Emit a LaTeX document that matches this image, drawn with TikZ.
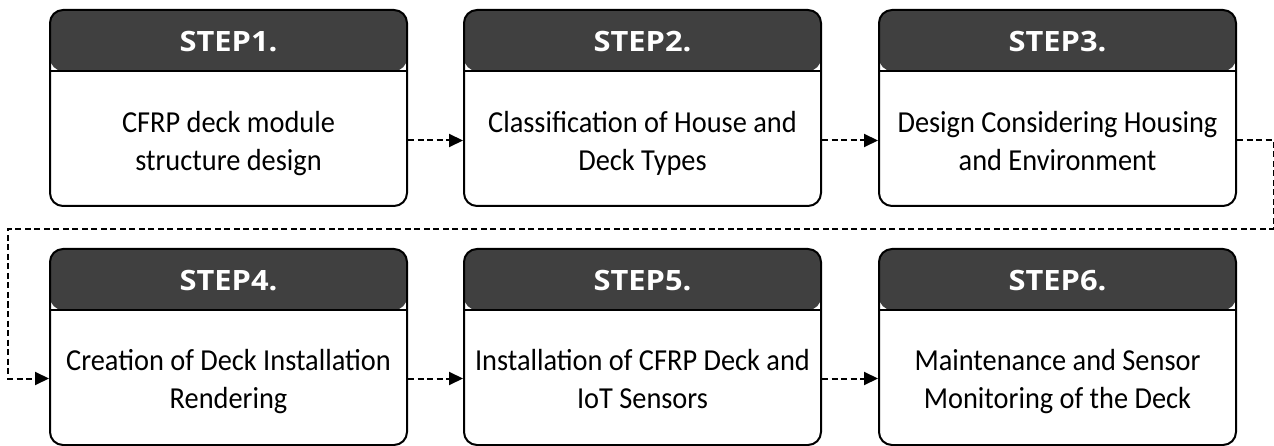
\documentclass[tikz,border=0pt]{standalone}
\usepackage{fontspec}
\setmainfont{Carlito}[FakeStretch=0.93]
\newfontfamily\hdrfont{Open Sans}[FakeStretch=1.1]
\usetikzlibrary{arrows.meta,calc}
\definecolor{hdr}{HTML}{404040}
\tikzset{
  stepbox/.style={draw=black, line width=2pt, rounded corners=13pt,
    minimum width=357pt, minimum height=196pt, inner sep=0pt, fill=white,
    path picture={
      \fill[hdr] (path picture bounding box.north west) rectangle ([yshift=-61pt]path picture bounding box.north east);
      \draw[line width=2pt] ([yshift=-61pt]path picture bounding box.north west) -- ([yshift=-61pt]path picture bounding box.north east);
    }},
  hdrtext/.style={text=white, font=\hdrfont\bfseries\fontsize{28}{32}\selectfont, inner sep=0pt},
  bodytext/.style={text=black, font=\fontsize{30.5}{37.5}\selectfont, align=center, inner sep=0pt},
  flow/.style={draw=black, line width=2pt, dash pattern=on 6pt off 3.5pt, -{Triangle[length=14pt,width=13pt]}},
}
\newcommand{\lnstrut}{\strut}
\begin{document}
\begin{tikzpicture}[x=1pt,y=1pt]
\useasboundingbox (0,0) rectangle (1274,-446);
% row 1
\node[stepbox] (s1) at (228.5,-108) {};
\node[stepbox] (s2) at (642.5,-108) {};
\node[stepbox] (s3) at (1057.5,-108) {};
% row 2
\node[stepbox] (s4) at (228.5,-347) {};
\node[stepbox] (s5) at (642.5,-347) {};
\node[stepbox] (s6) at (1057.5,-347) {};
% headers
\node[hdrtext] (h1) at ([yshift=-32.5pt]s1.north) {STEP1.};
\node[hdrtext] (h2) at ([yshift=-32.5pt]s2.north) {STEP2.};
\node[hdrtext] (h3) at ([yshift=-32.5pt]s3.north) {STEP3.};
\node[hdrtext] (h4) at ([yshift=-32.5pt]s4.north) {STEP4.};
\node[hdrtext] (h5) at ([yshift=-32.5pt]s5.north) {STEP5.};
\node[hdrtext] (h6) at ([yshift=-32.5pt]s6.north) {STEP6.};
% bodies
\node[bodytext] (t1) at (228.5,-144) {\lnstrut CFRP deck module\\\lnstrut structure design};
\node[bodytext] (t2) at (642.5,-144) {\lnstrut Classification of House and\\\lnstrut Deck Types};
\node[bodytext] (t3) at (1057.5,-144) {\lnstrut Design Considering Housing\\\lnstrut and Environment};
\node[bodytext] (t4) at (228.5,-382) {\lnstrut Creation of Deck Installation\\\lnstrut Rendering};
\node[bodytext] (t5) at (642.5,-382) {\lnstrut Installation of CFRP Deck and\\\lnstrut IoT Sensors};
\node[bodytext] (t6) at (1057.5,-382) {\lnstrut Maintenance and Sensor\\\lnstrut Monitoring of the Deck};
% connectors
\draw[flow] ($(s1.east |- t1)+(0,3.5)$) -- ($(s2.west |- t2)+(0,3.5)$);
\draw[flow] ($(s2.east |- t2)+(0,3.5)$) -- ($(s3.west |- t3)+(0,3.5)$);
\draw[flow] ($(s4.east |- t4)+(0,3.5)$) -- ($(s5.west |- t5)+(0,3.5)$);
\draw[flow] ($(s5.east |- t5)+(0,3.5)$) -- ($(s6.west |- t6)+(0,3.5)$);
\coordinate (r1) at (1273.5,-140.5);
\coordinate (r2) at (1273.5,-229);
\coordinate (l1) at (8,-229);
\coordinate (l2) at (8,-378.5);
\draw[flow] ($(s3.east |- t3)+(0,3.5)$) -- (r1) -- (r2) -- (l1) -- (l2) -- ($(s4.west |- t4)+(0,3.5)$);
\end{tikzpicture}
\end{document}
